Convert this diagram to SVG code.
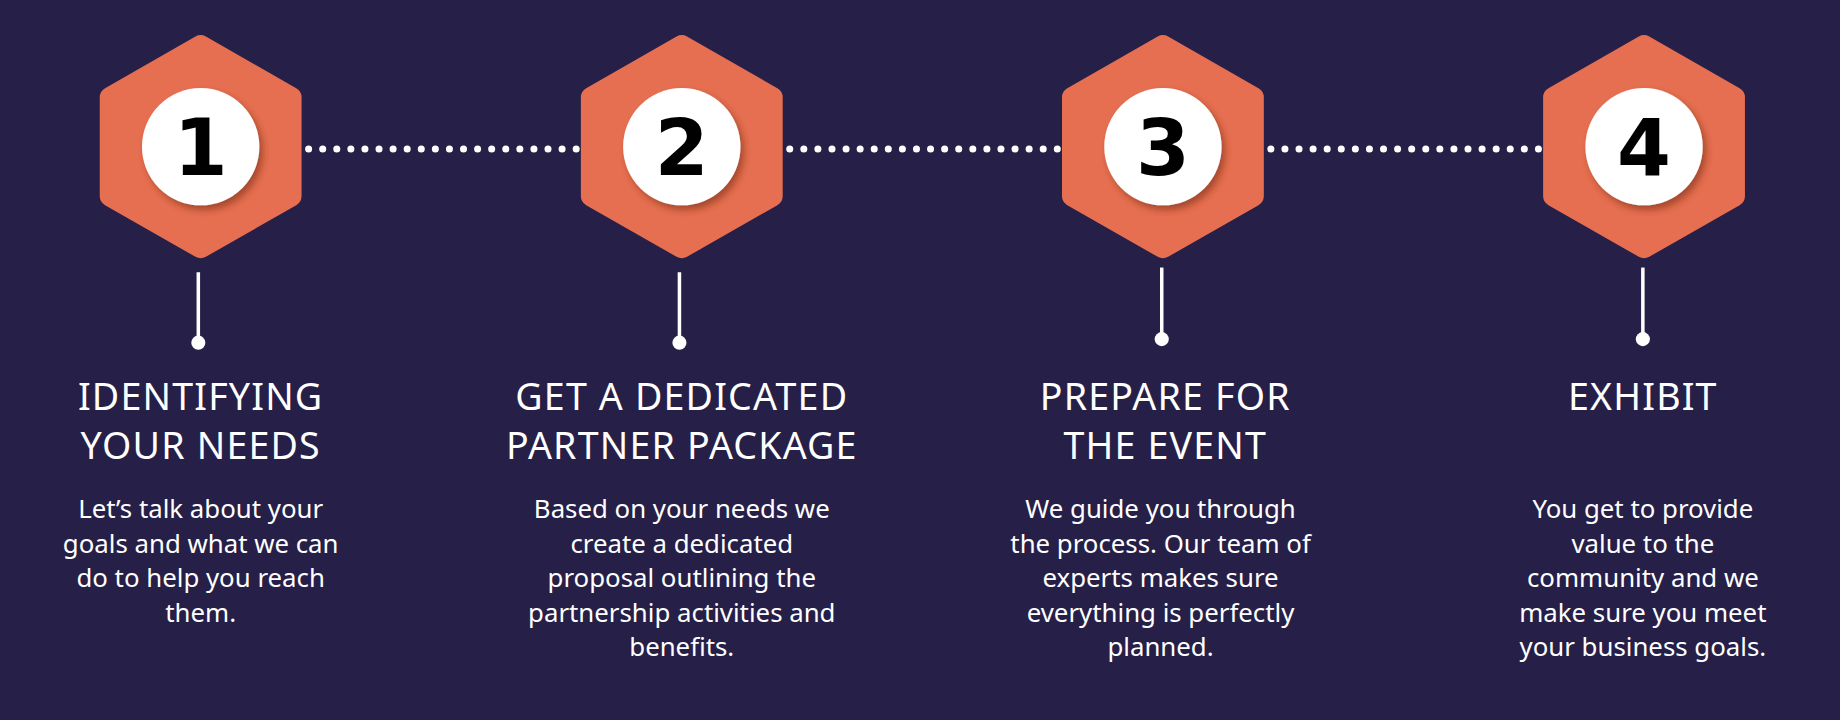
<svg xmlns="http://www.w3.org/2000/svg" width="1840" height="720" viewBox="0 0 1840 720">
<defs>
<style>
.hex{fill:#E66F51;stroke:#E66F51;stroke-width:18;stroke-linejoin:round}
.num{font-family:"DejaVu Sans","Liberation Sans",sans-serif;font-weight:bold;font-size:66px;fill:#000;text-anchor:middle}
.t{font-family:"Noto Sans","Liberation Sans",sans-serif;font-size:32px;fill:#fff;text-anchor:middle;letter-spacing:1px}
.b{font-family:"Noto Sans","Liberation Sans",sans-serif;font-size:22px;fill:#fff;text-anchor:middle}
.dots{stroke:#fff;stroke-width:6;stroke-linecap:round;stroke-dasharray:0 12}
.stem{stroke:#fff;stroke-width:3}
</style>
<filter id="sh" x="-30%" y="-30%" width="160%" height="160%"><feDropShadow dx="3" dy="4" stdDeviation="3" flood-color="#7a2a18" flood-opacity="0.6"/></filter>
<path id="hx" d="M0,-86 L77,-42 L77,42 L0,86 L-77,42 L-77,-42 Z"/>
</defs>
<rect width="1840" height="720" fill="#261F47"/>
<g transform="scale(1.17347)">
<g id="connectors">
<line class="dots" x1="263" y1="127" x2="493" y2="127"/>
<line class="dots" x1="673" y1="127" x2="903" y2="127"/>
<line class="dots" x1="1083" y1="127" x2="1313" y2="127"/>
</g>
<g id="step1">
<use href="#hx" class="hex" x="171" y="125"/>
<circle cx="171" cy="125" r="50" fill="#fff" filter="url(#sh)"/>
<text class="num" x="171" y="149">1</text>
<line class="stem" x1="169" y1="232" x2="169" y2="290"/><circle cx="169" cy="292" r="6" fill="#fff"/>
<text class="t" x="171" y="349">IDENTIFYING</text><text class="t" x="171" y="391">YOUR NEEDS</text>
<text class="b" x="171" y="441">Let’s talk about your</text><text class="b" x="171" y="471">goals and what we can</text><text class="b" x="171" y="500">do to help you reach</text><text class="b" x="171" y="530">them.</text>
</g>
<g id="step2">
<use href="#hx" class="hex" x="581" y="125"/>
<circle cx="581" cy="125" r="50" fill="#fff" filter="url(#sh)"/>
<text class="num" x="581" y="149">2</text>
<line class="stem" x1="579" y1="232" x2="579" y2="290"/><circle cx="579" cy="292" r="6" fill="#fff"/>
<text class="t" x="581" y="349">GET A DEDICATED</text><text class="t" x="581" y="391">PARTNER PACKAGE</text>
<text class="b" x="581" y="441">Based on your needs we</text><text class="b" x="581" y="471">create a dedicated</text><text class="b" x="581" y="500">proposal outlining the</text><text class="b" x="581" y="530">partnership activities and</text><text class="b" x="581" y="559">benefits.</text>
</g>
<g id="step3">
<use href="#hx" class="hex" x="991" y="125"/>
<circle cx="991" cy="125" r="50" fill="#fff" filter="url(#sh)"/>
<text class="num" x="991" y="149">3</text>
<line class="stem" x1="990" y1="228" x2="990" y2="287"/><circle cx="990" cy="289" r="6" fill="#fff"/>
<text class="t" x="993" y="349">PREPARE FOR</text><text class="t" x="993" y="391">THE EVENT</text>
<text class="b" x="989" y="441">We guide you through</text><text class="b" x="989" y="471">the process. Our team of</text><text class="b" x="989" y="500">experts makes sure</text><text class="b" x="989" y="530">everything is perfectly</text><text class="b" x="989" y="559">planned.</text>
</g>
<g id="step4">
<use href="#hx" class="hex" x="1401" y="125"/>
<circle cx="1401" cy="125" r="50" fill="#fff" filter="url(#sh)"/>
<text class="num" x="1401" y="149">4</text>
<line class="stem" x1="1400" y1="228" x2="1400" y2="287"/><circle cx="1400" cy="289" r="6" fill="#fff"/>
<text class="t" x="1400" y="349">EXHIBIT</text>
<text class="b" x="1400" y="441">You get to provide</text><text class="b" x="1400" y="471">value to the</text><text class="b" x="1400" y="500">community and we</text><text class="b" x="1400" y="530">make sure you meet</text><text class="b" x="1400" y="559">your business goals.</text>
</g>
</g>
</svg>
